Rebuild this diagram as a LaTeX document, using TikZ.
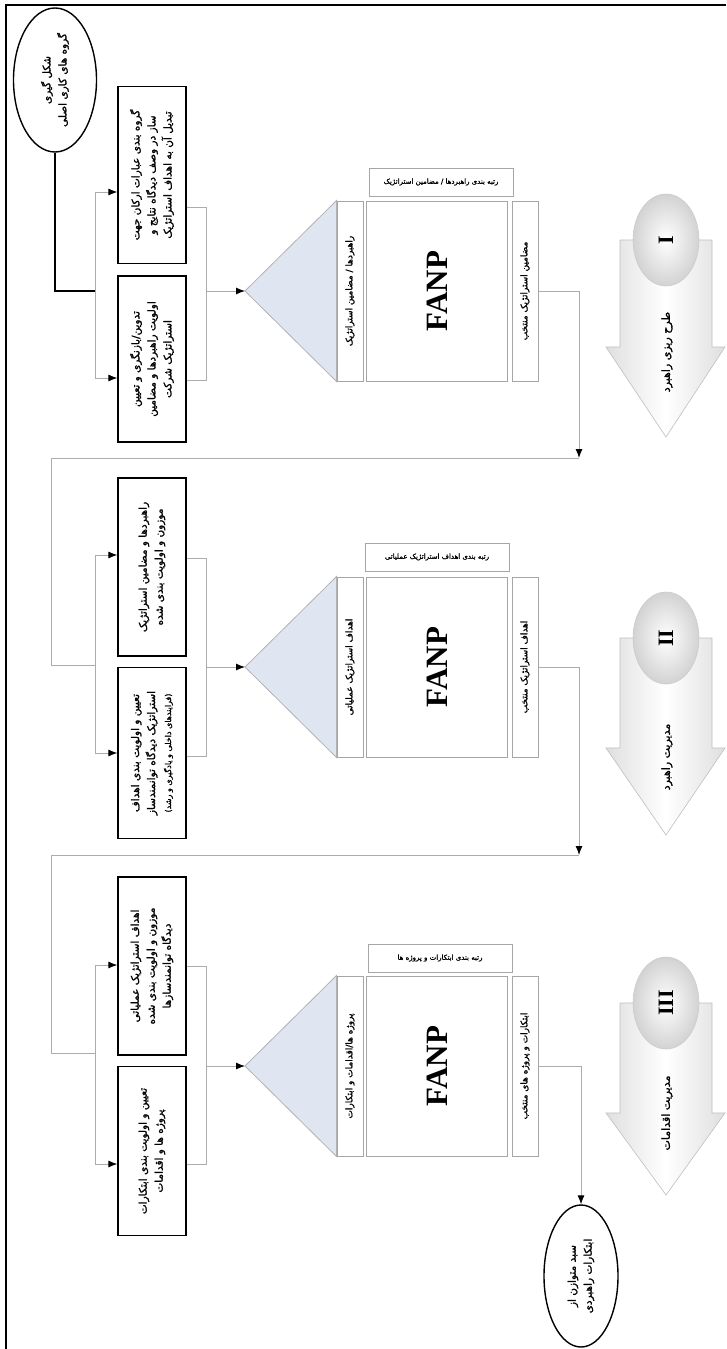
\documentclass[tikz,border=0pt]{standalone}
\usepackage{fontspec}
\setmainfont{Liberation Serif}
\newfontfamily\arabicfont[Script=Arabic,FakeBold=1.6]{DejaVu Sans}
\TeXXeTstate=1
\newcommand\fa[1]{{\arabicfont\beginR #1\endR}}
\usetikzlibrary{shapes.geometric,arrows.meta}
\definecolor{wedgeblue}{HTML}{DFE6F1}

\begin{document}
\begin{tikzpicture}[x=1pt,y=-1pt,
  stepbox/.style={draw,line width=1.3pt,rotate=90,align=center,minimum height=68pt,
    inner sep=2pt,font=\fontsize{10.5}{16}\selectfont},
  slimbox/.style={draw=gray!70,line width=1pt,rotate=90,minimum width=180pt,
    minimum height=26pt,inner sep=1pt,font=\fontsize{9}{10}\selectfont},
  fanpbox/.style={draw=gray!70,line width=1pt,rotate=90,minimum width=180pt,
    minimum height=141pt,font=\bfseries\fontsize{31}{31}\selectfont},
  titlebox/.style={draw=gray!70,line width=1pt,minimum width=144pt,minimum height=28pt,
    inner sep=1pt,font=\fontsize{7}{8}\selectfont},
  endoval/.style={draw,ellipse,line width=1.4pt,rotate=90,align=center,inner sep=0pt,
    font=\fontsize{10.5}{16}\selectfont},
  wedge/.style={fill=wedgeblue,draw=gray!60,line width=0.8pt},
  link/.style={line width=1.1pt},
  feed/.style={draw=gray!65,line width=0.9pt},
  phase/.style={left color=gray!25,right color=gray!25,middle color=white,draw=gray!50,line width=0.6pt},
  knob/.style={inner color=white,outer color=gray!35,draw=gray!40,line width=0.6pt},
  numeral/.style={rotate=90,font=\bfseries\fontsize{22}{22}\selectfont},
  phaselabel/.style={rotate=90,font=\fontsize{11}{12}\selectfont},
  >={Latex[length=9pt,width=7pt,color=black]}
]
\useasboundingbox (0,0) rectangle (726,1349);
% frame
\draw[line width=2pt] (6,1349) -- (6,5) -- (726,5);

% stage I
\node[endoval,minimum width=144pt,minimum height=83pt] (start) at (55,80)
  {\fa{شکل گیری}\\\fa{گروه های کاری اصلی}};
\node[stepbox,minimum width=177pt] (a1) at (152,175)
  {\fa{گروه بندی عبارات ارکان جهت}\\\fa{ساز در وصف دیدگاه نتایج و}\\\fa{تبدیل آن به اهداف استراتژیک}};
\node[stepbox,minimum width=166pt] (b1) at (152,359)
  {\fa{تدوین/بازنگری و تعیین}\\\fa{اولویت راهبردها و مضامین}\\\fa{استراتژیک شرکت}};
\node[slimbox] (in1) at (350,291) {\fa{راهبردها / مضامین استراتژیک}};
\node[fanpbox] (fanp1) at (437,291) {FANP};
\node[slimbox] (out1) at (525,291) {\fa{مضامین استراتژیک منتخب}};
\node[titlebox] (head1) at (441,182) {\fa{رتبه بندی راهبردها / مضامین استراتژیک}};
\coordinate (tip1) at (245,291);
\filldraw[wedge] (tip1) -- (in1.north east) -- (in1.north west) -- cycle;
\coordinate (j1) at (95,291);
\coordinate (u1) at (95,192);
\coordinate (d1) at (95,378);
\coordinate (v1) at (206,207);
\coordinate (w1) at (206,380);
\draw[link] (start.west) |- (j1);
\draw[feed] (u1) -- (d1);
\draw[feed,->] (u1) -- (u1 -| a1.north);
\draw[feed,->] (d1) -- (d1 -| b1.north);
\draw[feed] (v1 -| a1.south) -- (v1) -- (w1) -- (w1 -| b1.south);
\draw[feed,->] (v1 |- tip1) -- (tip1);
\coordinate (drop1) at (579,458);
\draw[feed,->] (out1.south) -| (drop1);
\shade[phase] (620,240) -- (620,347) -- (606,347) -- (666,437) -- (725,347) -- (712,347) -- (712,240) -- cycle;
\shade[knob] (666,240) ellipse [x radius=33pt,y radius=46pt];
\node[numeral] (n1) at (666,240) {I};
\node[phaselabel] (p1) at (667,352) {\fa{طرح ریزی راهبرد}};

% stage II
\coordinate (turn2) at (51,458);
\coordinate (j2) at (95,665);
\draw[feed] (drop1) -- (turn2) |- (j2);
\node[stepbox,minimum width=178pt] (a2) at (152,567)
  {\fa{راهبردها و مضامین استراتژیک}\\\fa{موزون و اولویت بندی شده}};
\node[stepbox,minimum width=171pt] (b2) at (152,753)
  {\fa{تعیین و اولویت بندی اهداف}\\\fa{استراتژیک دیدگاه توانمندساز}\\{\fontsize{8}{10}\selectfont\fa{(فرایندهای داخلی و یادگیری و رشد)}}};
\node[slimbox] (in2) at (350,667) {\fa{اهداف استراتژیک عملیاتی}};
\node[fanpbox] (fanp2) at (437,667) {FANP};
\node[slimbox] (out2) at (525,667) {\fa{اهداف استراتژیک منتخب}};
\node[titlebox] (head2) at (437,557) {\fa{رتبه بندی اهداف استراتژیک عملیاتی}};
\coordinate (tip2) at (245,667);
\filldraw[wedge] (tip2) -- (in2.north east) -- (in2.north west) -- cycle;
\coordinate (u2) at (95,555);
\coordinate (d2) at (95,753);
\coordinate (v2) at (206,558);
\coordinate (w2) at (206,756);
\draw[feed] (u2) -- (d2);
\draw[feed,->] (u2) -- (u2 -| a2.north);
\draw[feed,->] (d2) -- (d2 -| b2.north);
\draw[feed] (v2 -| a2.south) -- (v2) -- (w2) -- (w2 -| b2.south);
\draw[feed,->] (v2 |- tip2) -- (tip2);
\coordinate (drop2) at (579,855);
\draw[feed,->] (out2.south) -| (drop2);
\shade[phase] (620,638) -- (620,748) -- (606,748) -- (666,835) -- (725,748) -- (712,748) -- (712,638) -- cycle;
\shade[knob] (666,638) ellipse [x radius=33pt,y radius=46pt];
\node[numeral] (n2) at (666,638) {II};
\node[phaselabel] (p2) at (667,757) {\fa{مدیریت راهبرد}};

% stage III
\coordinate (turn3) at (51,855);
\coordinate (j3) at (95,1053);
\draw[feed] (drop2) -- (turn3) |- (j3);
\node[stepbox,minimum width=178pt] (a3) at (152,966)
  {\fa{اهداف استراتژیک عملیاتی}\\\fa{موزون و اولویت بندی شده}\\\fa{دیدگاه توانمندسازها}};
\node[stepbox,minimum width=169pt] (b3) at (152,1151)
  {\fa{تعیین و اولویت بندی ابتکارات}\\\fa{پروژه ها و اقدامات}};
\node[slimbox] (in3) at (350,1066) {\fa{پروژه ها/اقدامات و ابتکارات}};
\node[fanpbox] (fanp3) at (437,1066) {FANP};
\node[slimbox] (out3) at (525,1066) {\fa{ابتکارات و پروژه های منتخب}};
\node[titlebox] (head3) at (440,958) {\fa{رتبه بندی ابتکارات و پروژه ها}};
\coordinate (tip3) at (245,1066);
\filldraw[wedge] (tip3) -- (in3.north east) -- (in3.north west) -- cycle;
\coordinate (u3) at (95,965);
\coordinate (d3) at (95,1164);
\coordinate (v3) at (206,966);
\coordinate (w3) at (206,1164);
\draw[feed] (u3) -- (d3);
\draw[feed,->] (u3) -- (u3 -| a3.north);
\draw[feed,->] (d3) -- (d3 -| b3.north);
\draw[feed] (v3 -| a3.south) -- (v3) -- (w3) -- (w3 -| b3.south);
\draw[feed,->] (v3 |- tip3) -- (tip3);
\node[endoval,minimum width=142pt,minimum height=74pt] (finish) at (581,1276)
  {\fa{سبد متوازن از}\\\fa{ابتکارات راهبردی}};
\draw[feed,->] (out3.south) -| (finish.east);
\shade[phase] (620,1003) -- (620,1113) -- (606,1113) -- (666,1195) -- (725,1113) -- (712,1113) -- (712,1003) -- cycle;
\shade[knob] (666,1003) ellipse [x radius=33pt,y radius=46pt];
\node[numeral] (n3) at (666,1003) {III};
\node[phaselabel] (p3) at (667,1113) {\fa{مدیریت اقدامات}};
\end{tikzpicture}
\end{document}
